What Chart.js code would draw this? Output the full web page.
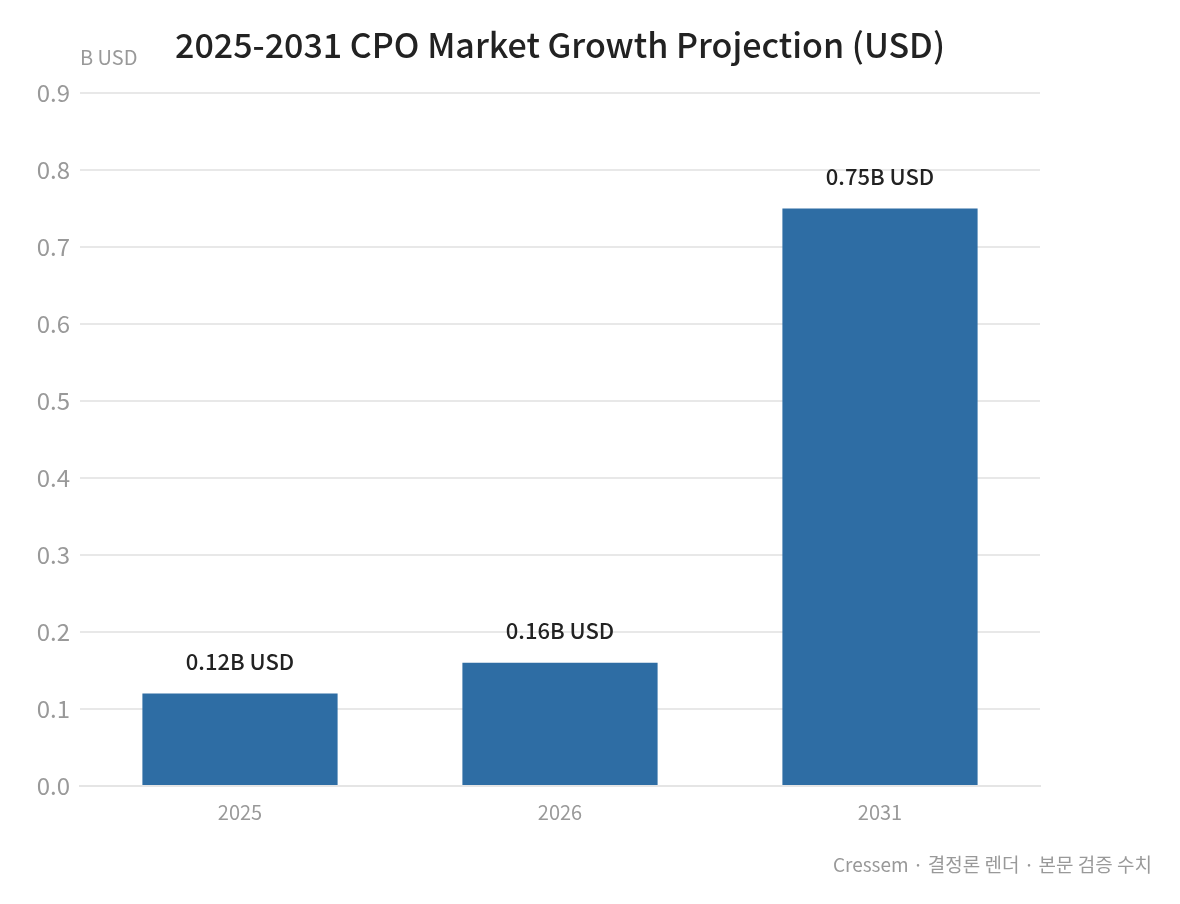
<!DOCTYPE html>
<html><head><meta charset="utf-8">
<script src="https://cdn.jsdelivr.net/npm/chart.js@4"></script>
<style>html,body{margin:0;background:#fff}#wrap{width:1180px;height:904px}</style>
</head><body><div id="wrap"><canvas id="c"></canvas></div>
<script>
const years = ['2025', '2026', '2031'];
const marketSize = [0.12, 0.16, 0.75];
const valueLabels = ['0.12B USD', '0.16B USD', '0.75B USD'];
const FONT = '"Noto Sans CJK KR", "Noto Sans", sans-serif';

const decor = {
    id: 'decor',
    afterDraw(chart) {
        const ctx = chart.ctx;
        ctx.save();
        ctx.fillStyle = '#222';
        ctx.font = '500 34px ' + FONT;
        ctx.textAlign = 'center'; ctx.textBaseline = 'middle';
        ctx.fillText('2025-2031 CPO Market Growth Projection (USD)', 560, 45);
        ctx.fillStyle = '#999';
        ctx.font = '20px ' + FONT; ctx.textAlign = 'left';
        ctx.fillText('B USD', 80, 57);
        ctx.textAlign = 'right'; ctx.font = '19px ' + FONT;
        ctx.fillText('Cressem · 결정론 렌더 · 본문 검증 수치', 1152, 865);
        const meta = chart.getDatasetMeta(0);
        ctx.fillStyle = '#222'; ctx.textAlign = 'center';
        ctx.font = '500 22px ' + FONT;
        meta.data.forEach((bar, i) => ctx.fillText(valueLabels[i], bar.x, bar.y - 32));
        ctx.restore();
    }
};

new Chart(document.getElementById('c'), {
    type: 'bar',
    data: { labels: years, datasets: [{ data: marketSize, backgroundColor: '#2e6da4', barPercentage: 0.61, categoryPercentage: 1 }] },
    options: {
        responsive: true, maintainAspectRatio: false, animation: false,
        layout: { padding: { top: 93, right: 140, left: 10, bottom: 0 } },
        plugins: { legend: { display: false }, tooltip: { enabled: false } },
        scales: {
            x: {
                grid: { display: false }, border: { color: '#e5e5e5', width: 2 },
                ticks: { color: '#999', font: { family: FONT, size: 20 }, padding: 6 },
                afterFit(s) { s.height = 118; }
            },
            y: {
                min: 0, max: 0.9,
                grid: { color: '#e8e8e8', lineWidth: 2, drawTicks: false }, border: { display: false },
                ticks: { stepSize: 0.1, color: '#999', font: { family: FONT, size: 24 }, padding: 10,
                    callback: v => v.toFixed(1) },
                afterFit(s) { s.width = 70; }
            }
        }
    },
    plugins: [decor]
});
</script></body></html>
